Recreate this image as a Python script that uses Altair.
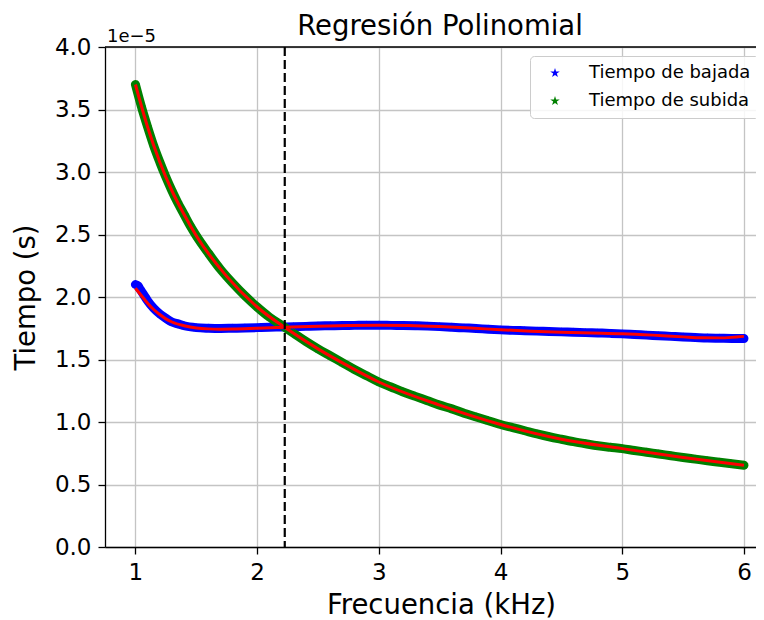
import altair as alt
import pandas as pd

# ---- data (tiempo in units of 1e-5 s) ----
series = ["Tiempo de bajada", "Tiempo de subida"]
colores = ["#0000ff", "#008000"]

frec_bajada = [1.00, 1.02, 1.04, 1.06, 1.08, 1.10, 1.15, 1.20, 1.25, 1.30, 1.35, 1.40,
               1.5, 1.6, 1.7, 1.8, 1.9, 2.0, 2.1, 2.2, 2.3, 2.4, 2.5, 2.6, 2.7, 2.8, 2.9,
               3.0, 3.1, 3.2, 3.3, 3.4, 3.5, 3.6, 3.7, 3.8, 3.9, 4.0, 4.1, 4.2, 4.3, 4.4,
               4.5, 4.6, 4.7, 4.8, 4.9, 5.0, 5.1, 5.2, 5.3, 5.4, 5.5, 5.6, 5.7, 5.8, 5.9, 6.0]
t_bajada = [2.10, 2.09, 2.06, 2.03, 2.00, 1.97, 1.91, 1.865, 1.83, 1.80, 1.785, 1.77,
            1.755, 1.75, 1.748, 1.75, 1.752, 1.755, 1.758, 1.76, 1.762, 1.765, 1.768, 1.77,
            1.772, 1.773, 1.774, 1.774, 1.773, 1.772, 1.77, 1.767, 1.763, 1.758, 1.753,
            1.748, 1.742, 1.737, 1.733, 1.73, 1.727, 1.724, 1.721, 1.718, 1.715, 1.712,
            1.709, 1.705, 1.70, 1.695, 1.69, 1.685, 1.68, 1.676, 1.672, 1.670, 1.668, 1.668]

frec_subida = [1.00, 1.05, 1.10, 1.15, 1.20, 1.25, 1.30, 1.35, 1.40, 1.45, 1.50,
               1.6, 1.7, 1.8, 1.9, 2.0, 2.1, 2.2, 2.3, 2.4, 2.5, 2.6, 2.7, 2.8, 2.9,
               3.0, 3.1, 3.2, 3.3, 3.4, 3.5, 3.6, 3.7, 3.8, 3.9, 4.0, 4.1, 4.2, 4.3, 4.4,
               4.5, 4.6, 4.7, 4.8, 4.9, 5.0, 5.1, 5.2, 5.3, 5.4, 5.5, 5.6, 5.7, 5.8, 5.9, 6.0]
t_subida = [3.70, 3.52, 3.36, 3.21, 3.08, 2.96, 2.85, 2.75, 2.66, 2.57, 2.49,
            2.35, 2.22, 2.11, 2.01, 1.92, 1.84, 1.775, 1.71, 1.645, 1.585, 1.53, 1.475,
            1.42, 1.37, 1.32, 1.28, 1.24, 1.205, 1.17, 1.135, 1.105, 1.07, 1.04, 1.01,
            0.98, 0.955, 0.93, 0.905, 0.882, 0.862, 0.843, 0.826, 0.81, 0.798, 0.787,
            0.772, 0.758, 0.744, 0.73, 0.716, 0.703, 0.69, 0.678, 0.666, 0.654]

# polynomial fits (red curves)
frec_ajuste_bajada = [1.00, 1.05, 1.10, 1.15, 1.20, 1.25, 1.30, 1.40, 1.50, 1.60, 1.70, 1.80,
                      2.00, 2.25, 2.50, 2.75, 3.00, 3.25, 3.50, 3.75, 4.00, 4.25, 4.50, 4.75,
                      5.00, 5.25, 5.50, 5.65, 5.80, 5.90, 6.00]
ajuste_bajada = [2.07, 2.01, 1.95, 1.90, 1.86, 1.825, 1.80, 1.77, 1.752, 1.745, 1.743, 1.744,
                 1.75, 1.758, 1.766, 1.772, 1.774, 1.772, 1.764, 1.752, 1.738, 1.726, 1.718,
                 1.712, 1.706, 1.695, 1.681, 1.674, 1.673, 1.677, 1.685]
frec_ajuste_subida = [1.0, 1.1, 1.2, 1.3, 1.4, 1.5, 1.75, 2.0, 2.25, 2.5, 2.75, 3.0, 3.5,
                      4.0, 4.5, 5.0, 5.5, 6.0]
ajuste_subida = [3.70, 3.36, 3.08, 2.85, 2.66, 2.49, 2.165, 1.92, 1.742, 1.585, 1.447, 1.32,
                 1.135, 0.98, 0.862, 0.787, 0.716, 0.654]

interseccion = [2.227]
x_ticks = [1, 2, 3, 4, 5, 6]
y_ticks = [0.0, 0.5, 1.0, 1.5, 2.0, 2.5, 3.0, 3.5, 4.0]
exponente = ["1e\u22125"]
titulo = ["Regresión Polinomial"]

STAR = ("M0,-1L0.225,-0.309L0.951,-0.309L0.363,0.118L0.588,0.809L0,0.382"
        "L-0.588,0.809L-0.363,0.118L-0.951,-0.309L-0.225,-0.309Z")
FONT = "DejaVu Sans"

datos = pd.concat([
    pd.DataFrame({"f": frec_bajada, "t": t_bajada, "serie": series[0]}),
    pd.DataFrame({"f": frec_subida, "t": t_subida, "serie": series[1]}),
])
ajustes = pd.concat([
    pd.DataFrame({"f": frec_ajuste_bajada, "t": ajuste_bajada, "serie": series[0]}),
    pd.DataFrame({"f": frec_ajuste_subida, "t": ajuste_subida, "serie": series[1]}),
])

xs = alt.Scale(domain=[0.75, 6.099], nice=False, zero=False)
ys = alt.Scale(domain=[0, 4.0], nice=False, zero=True)

x_enc = alt.X("f:Q", scale=xs, title="Frecuencia (kHz)",
              axis=alt.Axis(values=x_ticks, format="d", titleX=336, titleY=66,
                            titleBaseline="alphabetic", titleAlign="center"))
y_enc = alt.Y("t:Q", scale=ys, title="Tiempo (s)",
              axis=alt.Axis(values=y_ticks, format=".1f", titleX=-71, titleY=250,
                            titleAngle=270, titleBaseline="alphabetic", titleAlign="center"))

base = alt.Chart(datos)

bandas = []
for s, c in zip(series, colores):
    bandas.append(
        base.transform_filter(alt.datum.serie == s)
        .mark_line(strokeWidth=9, strokeCap="round", strokeJoin="round", color=c,
                   interpolate="monotone")
        .encode(x=x_enc, y=y_enc, order="f:Q")
    )

puntos = base.mark_point(shape=STAR, filled=True, size=90, opacity=1, strokeWidth=0).encode(
    x=x_enc, y=y_enc,
    color=alt.Color("serie:N", scale=alt.Scale(domain=series, range=colores),
                    legend=alt.Legend(title=None, orient="none", legendX=425, legendY=9,
                                      symbolType=STAR, symbolSize=100, symbolStrokeWidth=0,
                                      symbolOffset=8, labelFont=FONT, labelFontSize=18,
                                      labelColor="black", labelOffset=25, labelLimit=400,
                                      rowPadding=10, padding=8,
                                      fillColor="rgba(255,255,255,0.85)",
                                      strokeColor="#cccccc", cornerRadius=4)),
)

lineas_ajuste = alt.Chart(ajustes).mark_line(color="#ff0000", strokeWidth=3,
                                              interpolate="monotone").encode(
    x=alt.X("f:Q", scale=xs), y=alt.Y("t:Q", scale=ys), detail="serie:N", order="f:Q")

vertical = alt.Chart(pd.DataFrame({"f": interseccion})).mark_rule(
    color="black", strokeWidth=2.2, strokeDash=[9, 4]).encode(x=alt.X("f:Q", scale=xs))

# top spine (the right one lies beyond the visible area in the reference)
borde_superior = alt.Chart(pd.DataFrame({"t": [4.0]})).mark_rule(
    color="black", strokeWidth=1.3).encode(y=alt.Y("t:Q", scale=ys), x=alt.value(0),
                                           x2=alt.value(651))

etiqueta_exp = alt.Chart(pd.DataFrame({"txt": exponente})).mark_text(
    align="left", baseline="alphabetic", font=FONT, fontSize=18, color="black").encode(
    x=alt.value(2), y=alt.value(-5), text="txt:N")

etiqueta_titulo = alt.Chart(pd.DataFrame({"txt": titulo})).mark_text(
    align="center", baseline="alphabetic", font=FONT, fontSize=27.5, color="black").encode(
    x=alt.value(335), y=alt.value(-12), text="txt:N")

chart = alt.layer(*bandas, puntos, lineas_ajuste, vertical, borde_superior, etiqueta_exp,
                  etiqueta_titulo).properties(
    width=651, height=500,
    autosize=alt.AutoSizeParams(type="none"),
    padding={"left": 97, "top": 39, "right": 0, "bottom": 73},
).configure_view(strokeWidth=0).configure_axis(
    labelFont=FONT, labelFontSize=23, labelColor="black", labelPadding=7,
    titleFont=FONT, titleFontSize=27.5, titleFontWeight="normal", titleColor="black",
    domainColor="black", domainWidth=1.3, tickColor="black", tickWidth=1.3, tickSize=7,
    gridColor="#c4c4c4", gridWidth=1.3,
)

chart.save("out.html", embed_options={"renderer": "svg", "actions": False})
